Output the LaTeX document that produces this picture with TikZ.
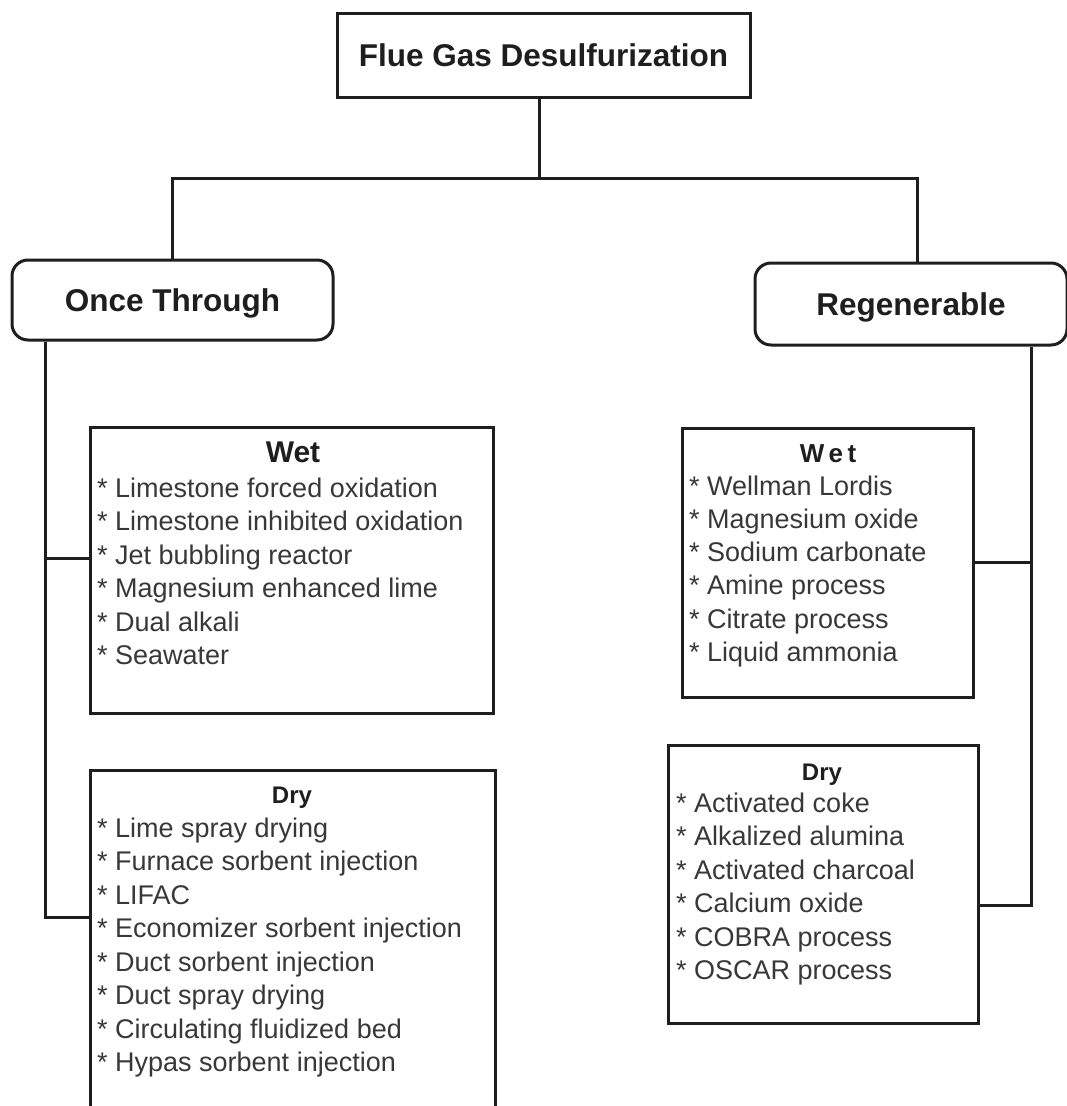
\documentclass[tikz,border=0pt]{standalone}
\usepackage{fontspec}
\setmainfont{Liberation Sans}
\definecolor{ink}{HTML}{1E1E1E}
\definecolor{txt}{HTML}{383838}
\begin{document}
\begin{tikzpicture}[x=1pt,y=-1pt,
  frame/.style={draw=ink, line width=3pt, inner sep=0pt},
  conn/.style={draw=ink, line width=3pt},
  headtxt/.style={font=\fontsize{31.5}{36}\selectfont\bfseries, text=ink, text height=22.5pt, text depth=0pt},
  subtitle/.style={text=ink, inner sep=0pt, anchor=base},
  item/.style={font=\fontsize{27}{33.5}\selectfont, text=txt, inner sep=0pt, anchor=base west}]

\useasboundingbox[fill=white] (0,0) rectangle (1066,1106);

% main boxes
\node[frame, headtxt, minimum width=413pt, minimum height=84pt] (fgd) at (543.5,55) {Flue Gas Desulfurization};
\node[frame, rounded corners=16pt, headtxt, minimum width=321pt, minimum height=80pt] (once) at (172.5,300) {Once Through};
\node[frame, rounded corners=16pt, headtxt, minimum width=312pt, minimum height=82pt] (regen) at (911,304) {Regenerable};

% list boxes
\node[frame, minimum width=403pt, minimum height=286pt] (wetL) at (291.5,570) {};
\node[frame, minimum width=405pt, minimum height=360pt] (dryL) at (292.5,950) {};
\node[frame, minimum width=291pt, minimum height=269pt] (wetR) at (827.5,562.5) {};
\node[frame, minimum width=310pt, minimum height=278pt] (dryR) at (823,884) {};

% titles
\node[subtitle, font=\fontsize{30}{36}\selectfont\bfseries] (wetLt) at (293,462) {Wet};
\node[subtitle, font=\fontsize{24}{30}\selectfont\bfseries] (dryLt) at (292,803) {Dry};
\node[subtitle, font=\fontsize{26}{30}\selectfont\bfseries] (wetRt) at (828,462) {W\,e\,t};
\node[subtitle, font=\fontsize{24}{30}\selectfont\bfseries] (dryRt) at (822,780) {Dry};

% lists
\foreach \t [count=\i from 0] in {Limestone forced oxidation, Limestone inhibited oxidation, Jet bubbling reactor, Magnesium enhanced lime, Dual alkali, Seawater}
  \node[item] (wetL-\i) at (97,{497+33.5*\i}) {* \t};
\foreach \t [count=\i from 0] in {Lime spray drying, Furnace sorbent injection, LIFAC, Economizer sorbent injection, Duct sorbent injection, Duct spray drying, Circulating fluidized bed, Hypas sorbent injection}
  \node[item] (dryL-\i) at (97,{837+33.5*\i}) {* \t};
\foreach \t [count=\i from 0] in {Wellman Lordis, Magnesium oxide, Sodium carbonate, Amine process, Citrate process, Liquid ammonia}
  \node[item] (wetR-\i) at (689,{495+33.3*\i}) {* \t};
\foreach \t [count=\i from 0] in {Activated coke, Alkalized alumina, Activated charcoal, Calcium oxide, COBRA process, OSCAR process}
  \node[item] (dryR-\i) at (676,{812+33.5*\i}) {* \t};

% connectors
\coordinate (bar) at (0,178);
\coordinate (fgdOut) at ([xshift=-4pt]fgd.south);
\coordinate (regIn) at ([xshift=6pt]regen.north);
\draw[conn] (fgdOut) -- (fgdOut |- bar);
\draw[conn] (once.north) -- (once.north |- bar) -- (regIn |- bar) -- (regIn);

\coordinate (otL) at ([xshift=35pt]once.south west);
\draw[conn] (otL) |- ([yshift=33pt]dryL.west);
\draw[conn] ([yshift=12pt]wetL.west) -- ++(-43pt,0);

\coordinate (rtR) at ([xshift=-37pt]regen.south east);
\draw[conn] (rtR) |- ([yshift=-21pt]dryR.east);
\draw[conn] (wetR.east) -- (wetR.east -| rtR);
\end{tikzpicture}
\end{document}
